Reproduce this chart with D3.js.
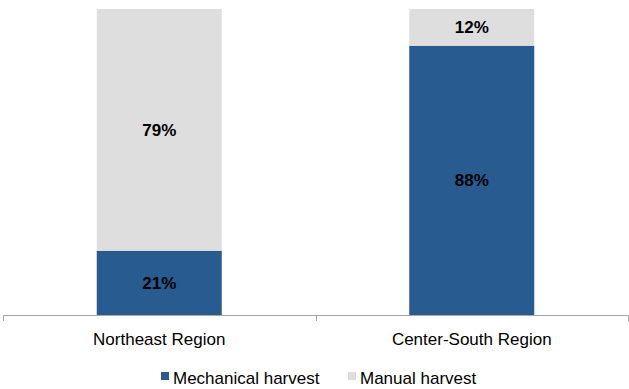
<!DOCTYPE html>
<html><head><meta charset="utf-8">
<script src="https://cdn.jsdelivr.net/npm/d3@7"></script>
<style>body{margin:0;background:#fff}svg{display:block;font-family:"Liberation Sans",Arial,sans-serif}</style>
</head><body><svg id="c" width="629" height="389"></svg>
<script>
const categories = ["Northeast Region", "Center-South Region"];
const seriesNames = ["Mechanical harvest", "Manual harvest"];
const mechanical = [21, 88];
const manual = [79, 12];
const colors = ["#285b8f", "#dedede"];

const svg = d3.select("#c");
const W = 629, H = 389;
const m = {left: 3, right: 1, top: 9, bottom: 74};
const x = d3.scaleBand().domain(categories).range([m.left, W - m.right]).paddingInner(0).paddingOuter(0);
const y = d3.scaleLinear().domain([0, 100]).range([H - m.bottom, m.top]);
const barW = 125;

const rows = categories.map((c, i) => ({cat: c, "Mechanical harvest": mechanical[i], "Manual harvest": manual[i]}));
const stack = d3.stack().keys(seriesNames)(rows);

const g = svg.append("g");
stack.forEach((s, si) => {
  g.selectAll(null).data(s).enter().append("rect")
    .attr("x", d => x(d.data.cat) + x.bandwidth() / 2 - barW / 2)
    .attr("width", barW)
    .attr("y", d => y(d[1]))
    .attr("height", d => y(d[0]) - y(d[1]))
    .attr("fill", colors[si]);
  g.selectAll(null).data(s).enter().append("text")
    .attr("x", d => x(d.data.cat) + x.bandwidth() / 2)
    .attr("y", d => (y(d[0]) + y(d[1])) / 2)
    .attr("dy", "0.35em")
    .attr("text-anchor", "middle")
    .attr("font-weight", "bold")
    .attr("font-size", "17px")
    .attr("fill", "#000")
    .text(d => (d[1] - d[0]) + "%");
});

// axis
const axisY = y(0);
const ax = svg.append("g").attr("transform", `translate(0,${axisY})`);
ax.append("line").attr("x1", m.left).attr("x2", W - m.right).attr("y1", 0.5).attr("y2", 0.5)
  .attr("stroke", "#a6a6a6").attr("stroke-width", 1);
const tickXs = categories.map(c => x(c)).concat([x(categories[categories.length - 1]) + x.bandwidth()]);
ax.selectAll(null).data(tickXs).enter().append("line")
  .attr("x1", d => Math.round(d) + 0.5).attr("x2", d => Math.round(d) + 0.5)
  .attr("y1", 0.5).attr("y2", 6).attr("stroke", "#a6a6a6");
ax.selectAll(null).data(categories).enter().append("text")
  .attr("x", d => x(d) + x.bandwidth() / 2)
  .attr("y", 30)
  .attr("text-anchor", "middle")
  .attr("font-size", "17px")
  .attr("fill", "#000")
  .text(d => d);

// legend
const leg = svg.append("g");
const legX = [161, 348];
seriesNames.forEach((n, i) => {
  leg.append("rect").attr("x", legX[i]).attr("y", 372).attr("width", 8).attr("height", 8).attr("fill", colors[i]);
  leg.append("text").attr("x", legX[i] + 12).attr("y", 384).attr("font-size", "17px").attr("fill", "#000").text(n);
});
</script></body></html>
